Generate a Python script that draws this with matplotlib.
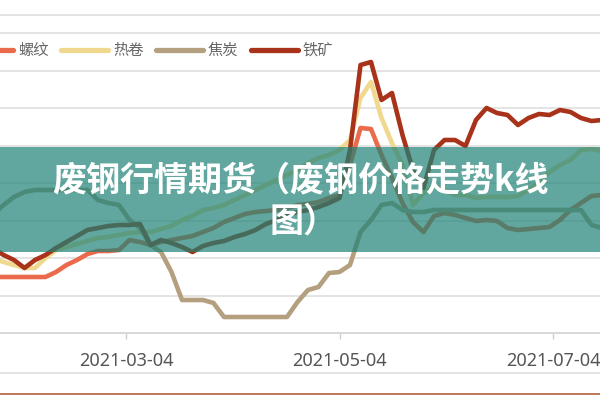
import matplotlib
matplotlib.use('Agg')
import matplotlib.pyplot as plt
import matplotlib.dates as mdates
from matplotlib.lines import Line2D
from matplotlib.patches import Rectangle
import pandas as pd
import numpy as np

# ---------------- data ----------------
dates = pd.date_range('2021-01-25', periods=59, freq='3D')
series_names = ['螺纹', '热卷', '焦炭', '铁矿']

rebar = [112, 112, 112, 112, 112, 112, 122, 136, 146, 158,
         164, 164, 166, 186, 182, 176, 182, 186, 190, 194,
         202, 210, 222, 230, 238, 242, 244, 246, 250, 256,
         258, 262, 270, 276, 336, 410, 408, 356, 310, 260,
         222, 202, 234, 240, 236, 230, 224, 226, 224, 210,
         206, 208, 210, 212, 226, 246, 260, 274, 276]

hrc = [150, 142, 136, 130, 130, 150, 166, 172, 178, 184,
       190, 192, 196, 200, 202, 202, 208, 214, 226, 234,
       246, 250, 256, 266, 276, 286, 296, 306, 316, 326,
       340, 350, 356, 366, 386, 470, 502, 430, 380, 336,
       256, 280, 296, 286, 276, 276, 270, 272, 272, 272,
       274, 286, 302, 322, 336, 346, 366, 368, 364]

coke = [236, 256, 272, 282, 286, 286, 286, 286, 286, 286,
        266, 260, 256, 226, 210, 176, 162, 122, 66, 66,
        66, 60, 32, 32, 32, 32, 32, 32, 32, 62,
        86, 92, 120, 122, 136, 202, 226, 256, 260, 246,
        242, 242, 246, 246, 246, 246, 246, 246, 246, 246,
        246, 246, 246, 246, 246, 246, 246, 216, 210]

ore = [170, 156, 146, 130, 146, 156, 170, 182, 194, 206,
       210, 214, 216, 216, 218, 176, 186, 180, 172, 162,
       174, 180, 184, 192, 198, 206, 218, 226, 236, 242,
       246, 252, 260, 270, 366, 536, 542, 466, 480, 396,
       326, 290, 366, 386, 386, 374, 426, 450, 440, 436,
       416, 430, 438, 436, 446, 442, 430, 424, 426]

tick_dates = ['2021-03-04', '2021-05-04', '2021-07-04']
title_line1 = '废钢行情期货（废钢价格走势k线'
title_line2 = '图）'
colors = ['#ea6b4b', '#f0d88e', '#b49f7f', '#a8331a']

# ---------------- figure ----------------
W, H = 600, 400
fig = plt.figure(figsize=(6, 4), dpi=100)
fig.patch.set_facecolor('white')


def fy(py):
    return 1 - py / H


def fx(px):
    return px / W


ax_bottom = fy(333)
ax_top = fy(14.25)
ax = fig.add_axes([0, ax_bottom, 1, ax_top - ax_bottom])
x0 = mdates.date2num(pd.Timestamp('2021-03-04'))
ppd = 3.5
ax.set_xlim(x0 - 126 / ppd, x0 + (600 - 126) / ppd)
ax.set_ylim(0, 637.5)

ax.set_yticks(np.arange(75, 601, 75))
ax.yaxis.grid(True, color='#e2e2e2', lw=1.3)
ax.tick_params(axis='y', left=False, labelleft=False)
ax.set_axisbelow(True)
for s in ['top', 'left', 'right']:
    ax.spines[s].set_visible(False)
ax.spines['bottom'].set_color('#d6d6d6')
ax.spines['bottom'].set_linewidth(1.3)

xt = [mdates.date2num(pd.Timestamp(d)) for d in tick_dates]
ax.set_xticks(xt)
ax.set_xticklabels(tick_dates, family=['Noto Sans', 'DejaVu Sans'])
ax.tick_params(axis='x', length=4.5, width=1, color='#cfcfcf',
               labelsize=13, labelcolor='#555555', pad=9)

for vals, c in zip([rebar, hrc, coke, ore], colors):
    ax.plot(dates, vals, color=c, lw=3.3, solid_joinstyle='round',
            solid_capstyle='round', zorder=3)

# frame lines outside the plot
for py, col, lw in [(15, '#e0e0e0', 1.3), (373, '#e0e0e0', 1.3), (394, '#b4603f', 1.2)]:
    fig.add_artist(Line2D([0, 1], [fy(py), fy(py)], transform=fig.transFigure,
                          color=col, lw=lw, zorder=1))

# legend
for i, (name, c) in enumerate(zip(series_names, colors)):
    xs = -34 + 95 * i
    fig.add_artist(Line2D([fx(xs), fx(xs + 47)], [fy(50), fy(50)],
                          transform=fig.transFigure, color=c, lw=3.8,
                          solid_capstyle='round', zorder=4))
    fig.text(fx(xs + 52), fy(50), name, ha='left', va='center', fontsize=11,
             color='#666666', family=['Noto Sans CJK SC', 'DejaVu Sans'], zorder=4)

# banner overlay
fig.add_artist(Rectangle((0, fy(252)), 1, (252 - 147) / H, transform=fig.transFigure,
                         facecolor=(30 / 255, 130 / 255, 118 / 255), alpha=0.7,
                         edgecolor='none', zorder=5))
fig.text(0.5, fy(180), title_line1, ha='center', va='center', fontsize=24.5,
         fontweight='bold', color='white',
         family=['Noto Sans CJK SC', 'DejaVu Sans'], zorder=6)
fig.text(fx(304), fy(221), title_line2, ha='center', va='center', fontsize=24.5,
         fontweight='bold', color='white',
         family=['Noto Sans CJK SC', 'DejaVu Sans'], zorder=6)

fig.savefig('out.png', dpi=100, facecolor='white')
